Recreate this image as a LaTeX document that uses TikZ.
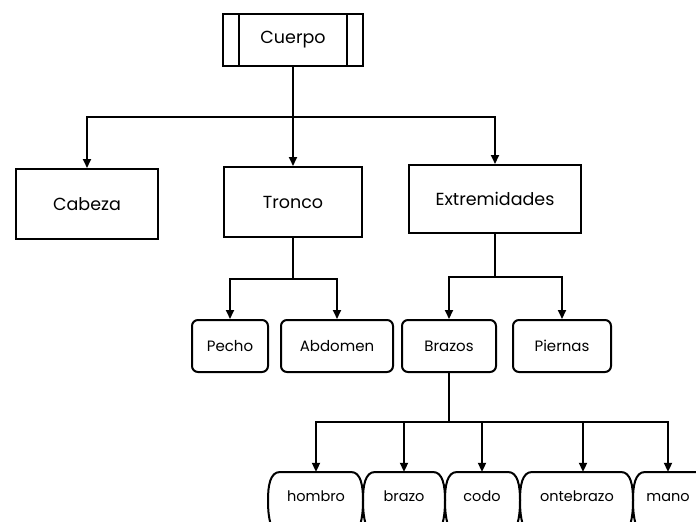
\documentclass[tikz,border=0pt]{standalone}
\usepackage{fontspec}
\setmainfont{Poppins}
\usetikzlibrary{arrows.meta,calc}
\tikzset{
  box/.style={draw, line width=2pt, inner sep=0pt, font=\fontsize{17.5}{20}\selectfont},
  smallbox/.style={draw, line width=2pt, rounded corners=6pt, inner sep=0pt, font=\fontsize{15}{18}\selectfont},
  leaf/.style={inner sep=0pt, minimum height=50pt, text height=10.5pt, text depth=3.5pt, font=\fontsize{14.5}{17}\selectfont},
  conn/.style={line width=2pt},
  arr/.style={line width=2pt, -{Triangle[length=9pt,width=8pt]}},
  outline/.style={line width=2pt},
}
\begin{document}
\begin{tikzpicture}[x=1pt,y=-1pt]
\useasboundingbox (0,0) rectangle (696,522);
\clip (0,0) rectangle (696,522);
% top
\node[box, minimum width=140pt, minimum height=52pt] (cuerpo) at (293,40) {Cuerpo};
\draw[line width=2pt] ([xshift=17pt]cuerpo.north west) -- ([xshift=17pt]cuerpo.south west);
\draw[line width=2pt] ([xshift=-17pt]cuerpo.north east) -- ([xshift=-17pt]cuerpo.south east);
% level 1
\node[box, minimum width=142pt, minimum height=70pt] (cabeza) at (87,204) {Cabeza};
\node[box, minimum width=138pt, minimum height=70pt] (tronco) at (293,202) {Tronco};
\node[box, minimum width=172pt, minimum height=68pt] (extrem) at (495,199) {Extremidades};
\coordinate (b1) at (293,117);
\draw[conn] (cuerpo.south) -- (b1);
\draw[arr] (b1) -| (cabeza.north);
\draw[arr] (b1) -- (tronco.north);
\draw[arr] (b1) -| (extrem.north);
% level 2
\node[smallbox, minimum width=76pt, minimum height=52pt] (pecho) at (230,346) {Pecho};
\node[smallbox, minimum width=112pt, minimum height=52pt] (abdomen) at (337,346) {Abdomen};
\node[smallbox, minimum width=94pt, minimum height=52pt] (brazos) at (449,346) {Brazos};
\node[smallbox, minimum width=98pt, minimum height=52pt] (piernas) at (562,346) {Piernas};
\coordinate (b2) at (tronco.south |- 0,279);
\draw[conn] (tronco.south) -- (b2);
\draw[arr] (b2) -| (pecho.north);
\draw[arr] (b2) -| (abdomen.north);
\coordinate (b3) at (extrem.south |- 0,277);
\draw[conn] (extrem.south) -- (b3);
\draw[arr] (b3) -| (brazos.north);
\draw[arr] (b3) -| (piernas.north);
% level 3
\node[leaf, minimum width=90pt] (hombro) at (316,498) {hombro};
\node[leaf, minimum width=76pt] (brazo) at (404,498) {brazo};
\node[leaf, minimum width=70pt] (codo) at (482,498) {codo};
\node[leaf, minimum width=106pt] (ontebrazo) at (577,498) {ontebrazo};
\node[leaf, minimum width=50pt] (mano) at (668,498) {mano};
\coordinate (b4) at (brazos.south |- 0,422);
\draw[conn] (brazos.south) -- (b4);
\draw[arr] (b4) -| ([yshift=1pt]hombro.north);
\draw[arr] (b4) -| ([yshift=1pt]brazo.north);
\draw[arr] (b4) -| ([yshift=1pt]codo.north);
\draw[arr] (b4) -| ([xshift=6pt,yshift=1pt]ontebrazo.north);
\draw[arr] (b4) -| ([yshift=1pt]mano.north);
% leaf outlines
\foreach \L/\R in {268/363, 363/445, 445/520, 520/633, 633/712} {
  \draw[outline] (\L+4,528) .. controls (\L+1,520) and (\L,512) .. (\L,500)
     .. controls (\L,486) and (\L+2,472) .. (\L+12,472)
     -- (\R-12,472)
     .. controls (\R-2,472) and (\R,486) .. (\R,500)
     .. controls (\R,512) and (\R-1,520) .. (\R-4,528);
}
\end{tikzpicture}
\end{document}
